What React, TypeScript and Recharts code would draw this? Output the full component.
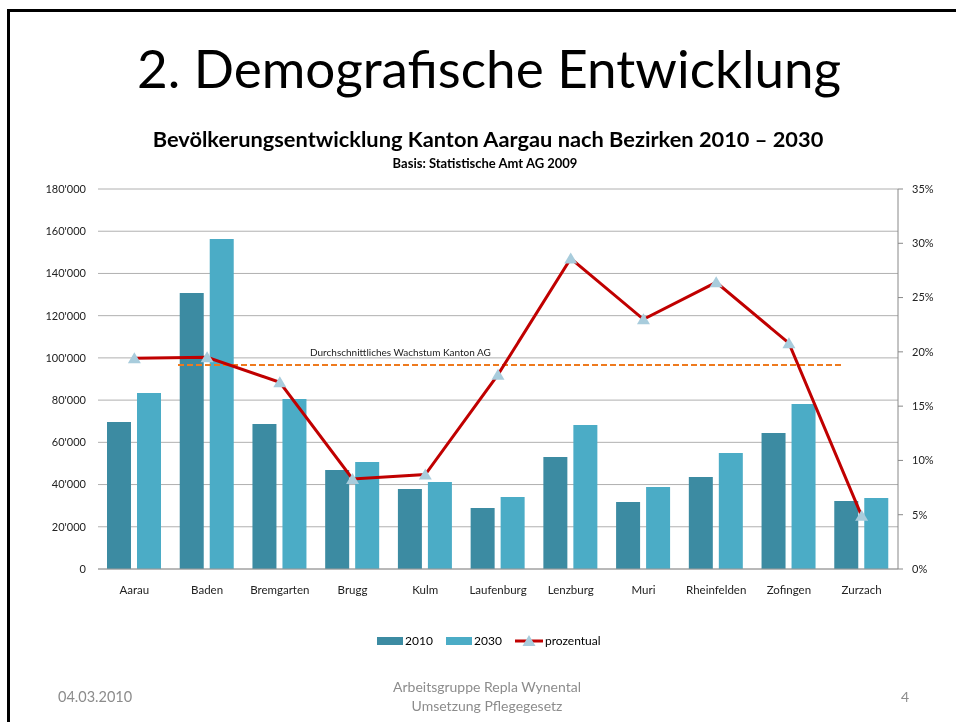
import React from 'react'
import { ComposedChart, Bar, Line, XAxis, YAxis, CartesianGrid, ReferenceLine } from 'recharts'

const districts = ['Aarau', 'Baden', 'Bremgarten', 'Brugg', 'Kulm', 'Laufenburg', 'Lenzburg', 'Muri', 'Rheinfelden', 'Zofingen', 'Zurzach']
const pop2010 = [69600, 130700, 68700, 46900, 37900, 28900, 53000, 31700, 43600, 64400, 32200]
const pop2030 = [83400, 156300, 80500, 50700, 41200, 34100, 68200, 38800, 55000, 78200, 33600]
const growthPct = [19.4, 19.5, 17.2, 8.3, 8.7, 17.9, 28.6, 23.0, 26.4, 20.8, 4.9]
const avgGrowth = 18.8

const popTicks = [0, 20000, 40000, 60000, 80000, 100000, 120000, 140000, 160000, 180000]
const pctTicks = [0, 5, 10, 15, 20, 25, 30, 35]

const data = districts.map((name, i) => ({
  name,
  y2010: pop2010[i],
  y2030: pop2030[i],
  pct: growthPct[i],
}))

const FONT = 'Lato, "Open Sans", sans-serif'
const C2010 = '#3C8BA2'
const C2030 = '#4BACC6'
const RED = '#C00000'
const MARKER = '#A8CCDC'
const ORANGE = '#EE7A1F'

const fmtPop = (v: number) => (v === 0 ? '0' : `${Math.round(v / 1000)}'000`)

function Triangle(props: any) {
  const { cx, cy } = props
  if (cx == null || cy == null) return null
  return (
    <polygon
      points={`${cx},${cy - 6} ${cx - 6.5},${cy + 5} ${cx + 6.5},${cy + 5}`}
      fill={MARKER}
    />
  )
}

// average line only spans part of the plot, with its label above
function AvgLine(props: any) {
  const left = Math.min(props.x1, props.x2)
  const w = Math.abs(props.x2 - props.x1)
  const y = props.y1
  return (
    <g>
      <line x1={left + w * 0.1} x2={left + w * 0.93} y1={y} y2={y} stroke={ORANGE} strokeWidth={2} strokeDasharray="6 3" />
      <text x={left + w * 0.265} y={y - 9} fontSize={10} fill="#222" fontFamily={FONT}>
        Durchschnittliches Wachstum Kanton AG
      </text>
    </g>
  )
}

export default function App() {
  return (
    <div style={{ position: 'relative', width: 940, height: 706, overflow: 'hidden', background: '#fff', fontFamily: FONT }}>
      <div style={{ position: 'fixed', left: 7, top: 9, width: 1000, height: 800, borderLeft: '3px solid #000', borderTop: '3px solid #000', pointerEvents: 'none' }} />
      <div style={{ position: 'absolute', left: 0, top: 0 }}>
        <ComposedChart
          width={940}
          height={600}
          data={data}
          margin={{ top: 181, right: 0, bottom: 9, left: 0 }}
          barSize={24}
          barGap={6}
        >
          <CartesianGrid yAxisId="left" vertical={false} stroke="#B0B0B0" />
          <XAxis
            dataKey="name"
            height={30}
            tickLine={false}
            tickMargin={11}
            axisLine={{ stroke: '#999' }}
            tick={{ fontSize: 11.5, fill: '#222', fontFamily: FONT }}
            interval={0}
          />
          <YAxis
            yAxisId="left"
            width={90}
            domain={[0, 180000]}
            ticks={popTicks}
            tickFormatter={fmtPop}
            axisLine={false}
            tickLine={false}
            tickSize={0}
            tickMargin={12}
            tick={{ fontSize: 11, fill: '#222', fontFamily: FONT }}
          />
          <YAxis
            yAxisId="right"
            orientation="right"
            width={50}
            domain={[0, 35]}
            ticks={pctTicks}
            tickFormatter={(v: number) => `${v}%`}
            axisLine={{ stroke: '#888' }}
            tickLine={{ stroke: '#888' }}
            tickSize={5}
            tickMargin={9}
            tick={{ fontSize: 11, fill: '#222', fontFamily: FONT }}
          />
          <Bar yAxisId="left" dataKey="y2010" fill={C2010} isAnimationActive={false} />
          <Bar yAxisId="left" dataKey="y2030" fill={C2030} isAnimationActive={false} />
          <ReferenceLine yAxisId="right" y={avgGrowth} shape={AvgLine} />
          <Line
            yAxisId="right"
            dataKey="pct"
            stroke={RED}
            strokeWidth={3}
            dot={<Triangle />}
            activeDot={false}
            isAnimationActive={false}
          />
        </ComposedChart>
      </div>
      <svg width={940} height={706} style={{ position: 'absolute', left: 0, top: 0, pointerEvents: 'none' }} fontFamily={FONT}>
        <text x={481} y={80} textAnchor="middle" fontSize={53} fill="#000">2. Demografische Entwicklung</text>
        <text x={480} y={139} textAnchor="middle" fontSize={21.8} fontWeight="bold" fill="#000">
          Bevölkerungsentwicklung Kanton Aargau nach Bezirken 2010 – 2030
        </text>
        <text x={477} y={160} textAnchor="middle" fontSize={13} fontWeight="bold" fill="#000">Basis: Statistische Amt AG 2009</text>

        <rect x={369} y={629} width={26} height={8} fill={C2010} />
        <text x={397} y={637} fontSize={12} fill="#000">2010</text>
        <rect x={438} y={629} width={26} height={8} fill={C2030} />
        <text x={466} y={637} fontSize={12} fill="#000">2030</text>
        <line x1={507} x2={535} y1={633} y2={633} stroke={RED} strokeWidth={3} />
        <Triangle cx={521} cy={633} />
        <text x={537} y={637} fontSize={12} fill="#000">prozentual</text>

        <text x={50} y={694} fontSize={14.5} fill="#8C8C8C">04.03.2010</text>
        <text x={479} y={684} textAnchor="middle" fontSize={14} fill="#8C8C8C">Arbeitsgruppe Repla Wynental</text>
        <text x={479} y={703} textAnchor="middle" fontSize={14} fill="#8C8C8C">Umsetzung Pflegegesetz</text>
        <text x={897} y={694} textAnchor="middle" fontSize={14} fill="#8C8C8C">4</text>
      </svg>
    </div>
  )
}
